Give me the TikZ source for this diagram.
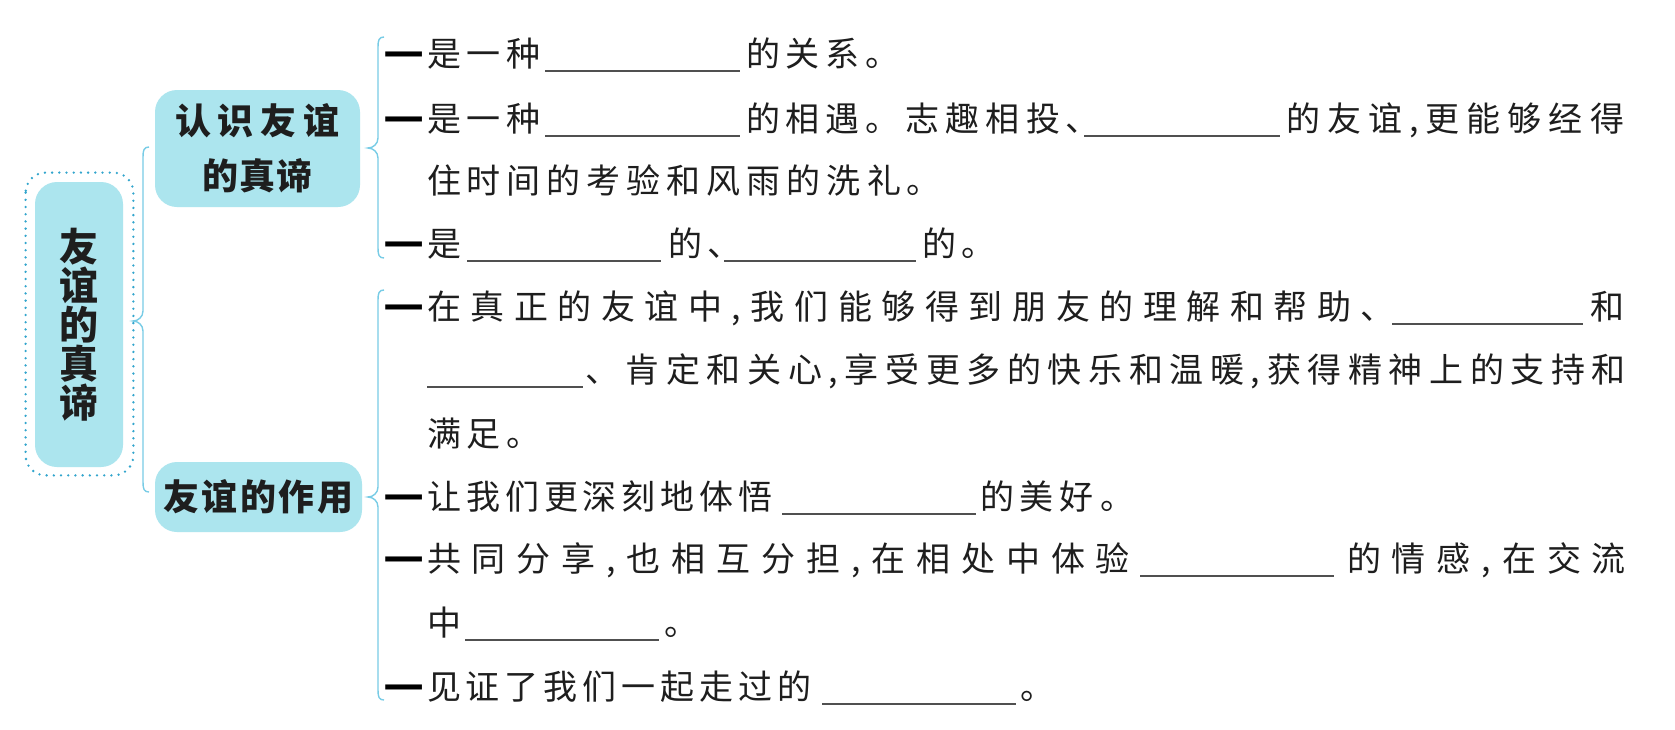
\documentclass[tikz,border=0pt]{standalone}
\usepackage{fontspec}
\newfontfamily\cjk{Noto Sans CJK SC}
\usetikzlibrary{calc}
\newdimen\pxu \pxu=0.5pt
\def\sprfirst#1{#1\sprrest}
\def\sprrest#1{\ifx#1\relax\else\hfill#1\expandafter\sprrest\fi}
\newcommand\spr[2]{\hbox to #1\pxu{\sprfirst#2\relax}}
\definecolor{boxfill}{RGB}{172,229,238}
\definecolor{bracecol}{RGB}{120,204,230}
\definecolor{dotcol}{RGB}{50,165,205}
\definecolor{txt}{RGB}{30,30,30}
\definecolor{blankcol}{RGB}{80,80,80}
\tikzset{
  body/.style={anchor=base west, inner sep=0pt, outer sep=0pt, text=txt,
    font=\cjk\fontsize{17pt}{20pt}\selectfont},
  dashmark/.style={anchor=base west, inner sep=0pt, outer sep=0pt, text=black,
    font=\cjk\bfseries\fontsize{22.5pt}{26pt}\selectfont},
  blank/.style={draw=blankcol, line width=0.6pt},
  hdbox/.style={fill=boxfill, rounded corners=11pt, inner sep=0pt, align=center,
    text=txt, font=\cjk\bfseries\fontsize{18pt}{27.5pt}\selectfont},
  rootbox/.style={fill=boxfill, rounded corners=11pt, inner sep=0pt, align=center,
    text=txt, font=\cjk\bfseries\fontsize{19.5pt}{19.5pt}\selectfont},
  dotb/.style={draw=dotcol, line width=1.3pt, dash pattern=on 0pt off 3.6pt,
    line cap=round, rounded corners=10pt},
  bracepath/.style={draw=bracecol, line width=0.7pt}
}
\newcommand\cbrace[4]{%
  \draw[bracepath] (#1+6,#2) .. controls (#1+1,#2) and (#1,#2+3) .. (#1,#2+10)
    -- (#1,#4-10) .. controls (#1,#4-4) and (#1-5,#4) .. (#1-10,#4)
    .. controls (#1-5,#4) and (#1,#4+4) .. (#1,#4+10)
    -- (#1,#3-10) .. controls (#1,#3-3) and (#1+1,#3) .. (#1+6,#3);}
\begin{document}
\begin{tikzpicture}[x=0.5pt, y=-0.5pt]
\fill[white] (0,0) rectangle (1675,729);
\useasboundingbox (0,0) rectangle (1675,729);

% headings
\node[rootbox, minimum width=44pt, minimum height=142.5pt] (root) at (79,324.5) {友\\谊\\的\\真\\谛};
\draw[dotb] ($(root.north west)+(-9,-9)$) rectangle ($(root.south east)+(10,8)$);
\node[hdbox, minimum width=102.5pt, minimum height=58.5pt] (sub1) at (257.5,148.5) {\spr{165}{认识友谊}\\\spr{110}{的真谛}};
\node[hdbox, minimum width=103.5pt, minimum height=35pt] (sub2) at (258.5,497) {\spr{190}{友谊的作用}};

% braces
\cbrace{143}{147}{492}{321}
\cbrace{378}{37}{258}{148}
\cbrace{378}{290}{700}{497}

% row 1 (centre 53)
\node[dashmark] (d1) at (383,67) {—};
\node[body] (r1a) at (427,66) {\spr{114}{是一种}};
\draw[blank] (545,71) -- (740,71);
\node[body] (r1b) at (746,66) {\spr{154}{的关系。}};
% row 2 (centre 118)
\node[dashmark] (d2) at (383,132) {—};
\node[body] (r2a) at (427,131) {\spr{114}{是一种}};
\draw[blank] (545,136) -- (740,136);
\node[body] (r2b) at (746,131) {\spr{354}{的相遇。志趣相投、}};
\draw[blank] (1084,136) -- (1280,136);
\node[body] (r2c) at (1286,131) {\spr{338}{的友谊,更能够经得}};
% row 3 (centre 180)
\node[body] (r3a) at (427,193) {\spr{514}{住时间的考验和风雨的洗礼。}};
% row 4 (centre 243)
\node[dashmark] (d4) at (383,257) {—};
\node[body] (r4a) at (427,256) {是};
\draw[blank] (467,261) -- (661,261);
\node[body] (r4b) at (668,256) {\spr{74}{的、}};
\draw[blank] (724,261) -- (916,261);
\node[body] (r4c) at (922,256) {\spr{74}{的。}};
% row 5 (centre 306)
\node[dashmark] (d5) at (383,320) {—};
\node[body] (r5a) at (427,319) {\spr{968}{在真正的友谊中,我们能够得到朋友的理解和帮助、}};
\draw[blank] (1392,324) -- (1583,324);
\node[body] (r5b) at (1590,319) {和};
% row 6 (centre 369)
\draw[blank] (427,387) -- (583,387);
\node[body] (r6a) at (585,382) {\spr{1041}{、肯定和关心,享受更多的快乐和温暖,获得精神上的支持和}};
% row 7 (centre 433)
\node[body] (r7a) at (427,446) {\spr{114}{满足。}};
% row 8 (centre 496)
\node[dashmark] (d8) at (383,510) {—};
\node[body] (r8a) at (427,509) {\spr{346}{让我们更深刻地体悟}};
\draw[blank] (782,514) -- (976,514);
\node[body] (r8b) at (980,509) {\spr{154}{的美好。}};
% row 9 (centre 558)
\node[dashmark] (d9) at (383,572) {—};
\node[body] (r9a) at (427,571) {\spr{703}{共同分享,也相互分担,在相处中体验}};
\draw[blank] (1140,576) -- (1334,576);
\node[body] (r9b) at (1347,571) {\spr{279}{的情感,在交流}};
% row 10 (centre 622)
\node[body] (r10a) at (427,635) {中};
\draw[blank] (465,640) -- (659,640);
\node[body] (r10b) at (664,635) {。};
% row 11 (centre 686)
\node[dashmark] (d11) at (383,700) {—};
\node[body] (r11a) at (427,699) {\spr{384}{见证了我们一起走过的}};
\draw[blank] (822,704) -- (1016,704);
\node[body] (r11b) at (1020,699) {。};
\end{tikzpicture}
\end{document}
